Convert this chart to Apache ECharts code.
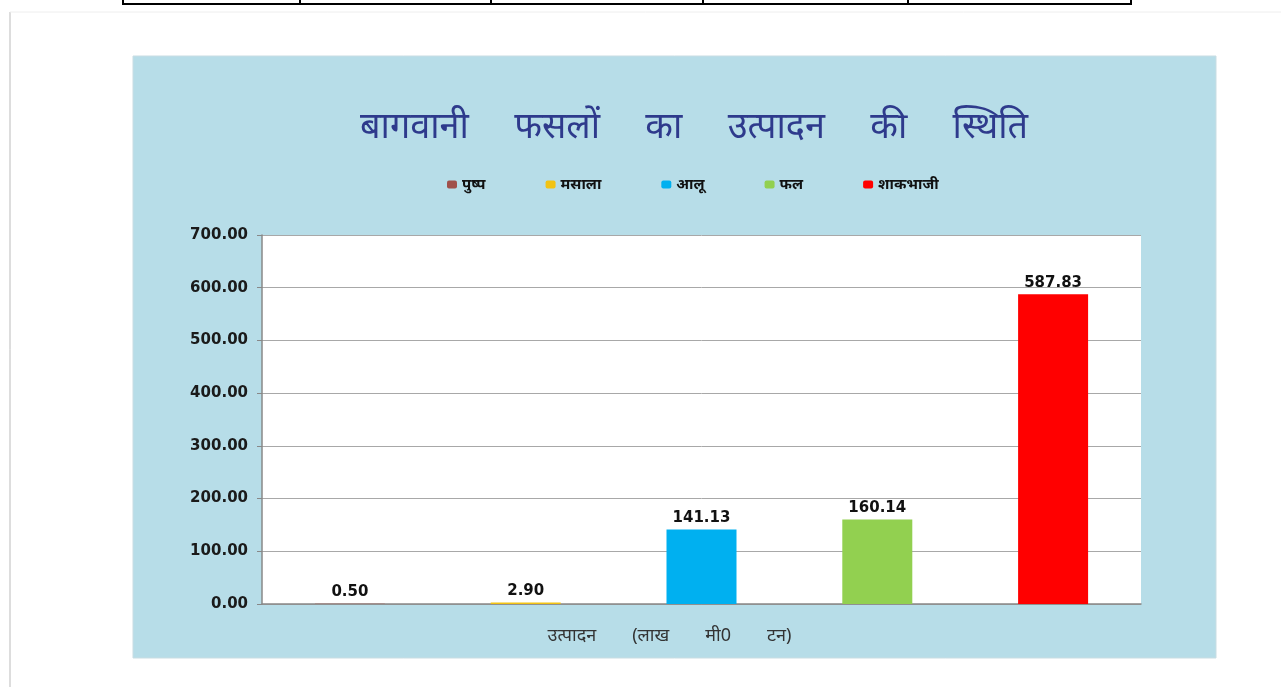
<!DOCTYPE html>
<html>
<head>
<meta charset="utf-8">
<script src="https://cdn.jsdelivr.net/npm/echarts@6/dist/echarts.min.js"></script>
<style>
  html, body { margin: 0; padding: 0; background: #fff; }
  #chart { width: 1281px; height: 687px; }
</style>
</head>
<body>
<div id="chart"></div>
<script>
// crop names and production (lakh MT)
const crops = ['पुष्प', 'मसाला', 'आलू', 'फल', 'शाकभाजी'];
const production = [0.50, 2.90, 141.13, 160.14, 587.83];
const cropColors = ['#A0504A', '#F2C314', '#00B0F0', '#92D050', '#FF0000'];
const yTicks = [0, 100, 200, 300, 400, 500, 600, 700];

// wide word gaps like the original slide
const chartTitle = ['बागवानी', 'फसलों', 'का', 'उत्पादन', 'की', 'स्थिति'].join('\u2003 ');
const xName = ['उत्पादन', '(लाख', 'मी0', 'टन)'].join('\u2003\u2003');

const chart = echarts.init(document.getElementById('chart'));

// one series per crop so legend gets all five, stacked so each bar sits centred in its slot
const series = crops.map((name, i) => ({
  name: name,
  type: 'bar',
  stack: 'all',
  barWidth: 70,
  itemStyle: { color: cropColors[i] },
  label: {
    show: true,
    position: 'top',
    formatter: p => Number(p.value).toFixed(2),
    color: '#111',
    fontWeight: 'bold',
    fontSize: 15,
    fontFamily: 'DejaVu Sans, sans-serif',
    distance: 4
  },
  data: crops.map((c, j) => (j === i ? production[i] : '-'))
}));

chart.setOption({
  backgroundColor: '#fff',
  animation: false,
  graphic: [
    // table lines at top of page
    { type: 'rect', shape: { x: 123, y: -4, width: 1008, height: 8 }, style: { fill: 'none', stroke: '#000', lineWidth: 2 } },
    { type: 'line', shape: { x1: 300, y1: 0, x2: 300, y2: 4 }, style: { stroke: '#000', lineWidth: 2 } },
    { type: 'line', shape: { x1: 491, y1: 0, x2: 491, y2: 4 }, style: { stroke: '#000', lineWidth: 2 } },
    { type: 'line', shape: { x1: 703, y1: 0, x2: 703, y2: 4 }, style: { stroke: '#000', lineWidth: 2 } },
    { type: 'line', shape: { x1: 908, y1: 0, x2: 908, y2: 4 }, style: { stroke: '#000', lineWidth: 2 } },
    { type: 'line', shape: { x1: 10, y1: 12, x2: 10, y2: 687 }, style: { stroke: '#bbb', lineWidth: 1 } },
    { type: 'line', shape: { x1: 10, y1: 12, x2: 1281, y2: 12 }, style: { stroke: '#eee', lineWidth: 1 } },
    // light blue chart panel
    { type: 'rect', z: -10, shape: { x: 133, y: 56, width: 1083, height: 602 }, style: { fill: '#B7DDE8', stroke: '#C9DDE3', lineWidth: 1 } }
  ],
  title: {
    text: chartTitle,
    left: 355,
    top: 105,
    textStyle: {
      color: '#2E3A8C',
      fontSize: 36,
      fontWeight: 'normal',
      fontFamily: 'Noto Sans, sans-serif'
    }
  },
  legend: {
    top: 172,
    left: 442,
    itemWidth: 10,
    itemHeight: 8,
    itemGap: 60,
    textStyle: { color: '#111', fontSize: 15, fontWeight: 'bold', fontFamily: 'Noto Sans, sans-serif' },
    data: crops
  },
  grid: {
    left: 262,
    top: 235,
    width: 879,
    height: 369,
    show: true,
    backgroundColor: '#fff',
    borderWidth: 0
  },
  xAxis: {
    type: 'category',
    data: crops,
    name: xName,
    nameLocation: 'middle',
    nameGap: 23,
    nameTextStyle: { color: '#333', fontSize: 18, fontFamily: 'Noto Sans, sans-serif', padding: [0, 64, 0, 0] },
    axisLine: { lineStyle: { color: '#888', width: 1.5 } },
    axisTick: { show: false },
    axisLabel: { show: false }
  },
  yAxis: {
    type: 'value',
    min: yTicks[0],
    max: yTicks[yTicks.length - 1],
    interval: 100,
    axisLine: { show: true, lineStyle: { color: '#888', width: 1.5 } },
    axisTick: { show: true, length: 5, lineStyle: { color: '#888' } },
    splitLine: { lineStyle: { color: '#A8A8A8', width: 1 } },
    axisLabel: {
      formatter: v => v.toFixed(2),
      color: '#1a1a1a',
      fontWeight: 'bold',
      fontSize: 15,
      fontFamily: 'DejaVu Sans, sans-serif',
      margin: 14
    }
  },
  series: series
});
</script>
</body>
</html>
